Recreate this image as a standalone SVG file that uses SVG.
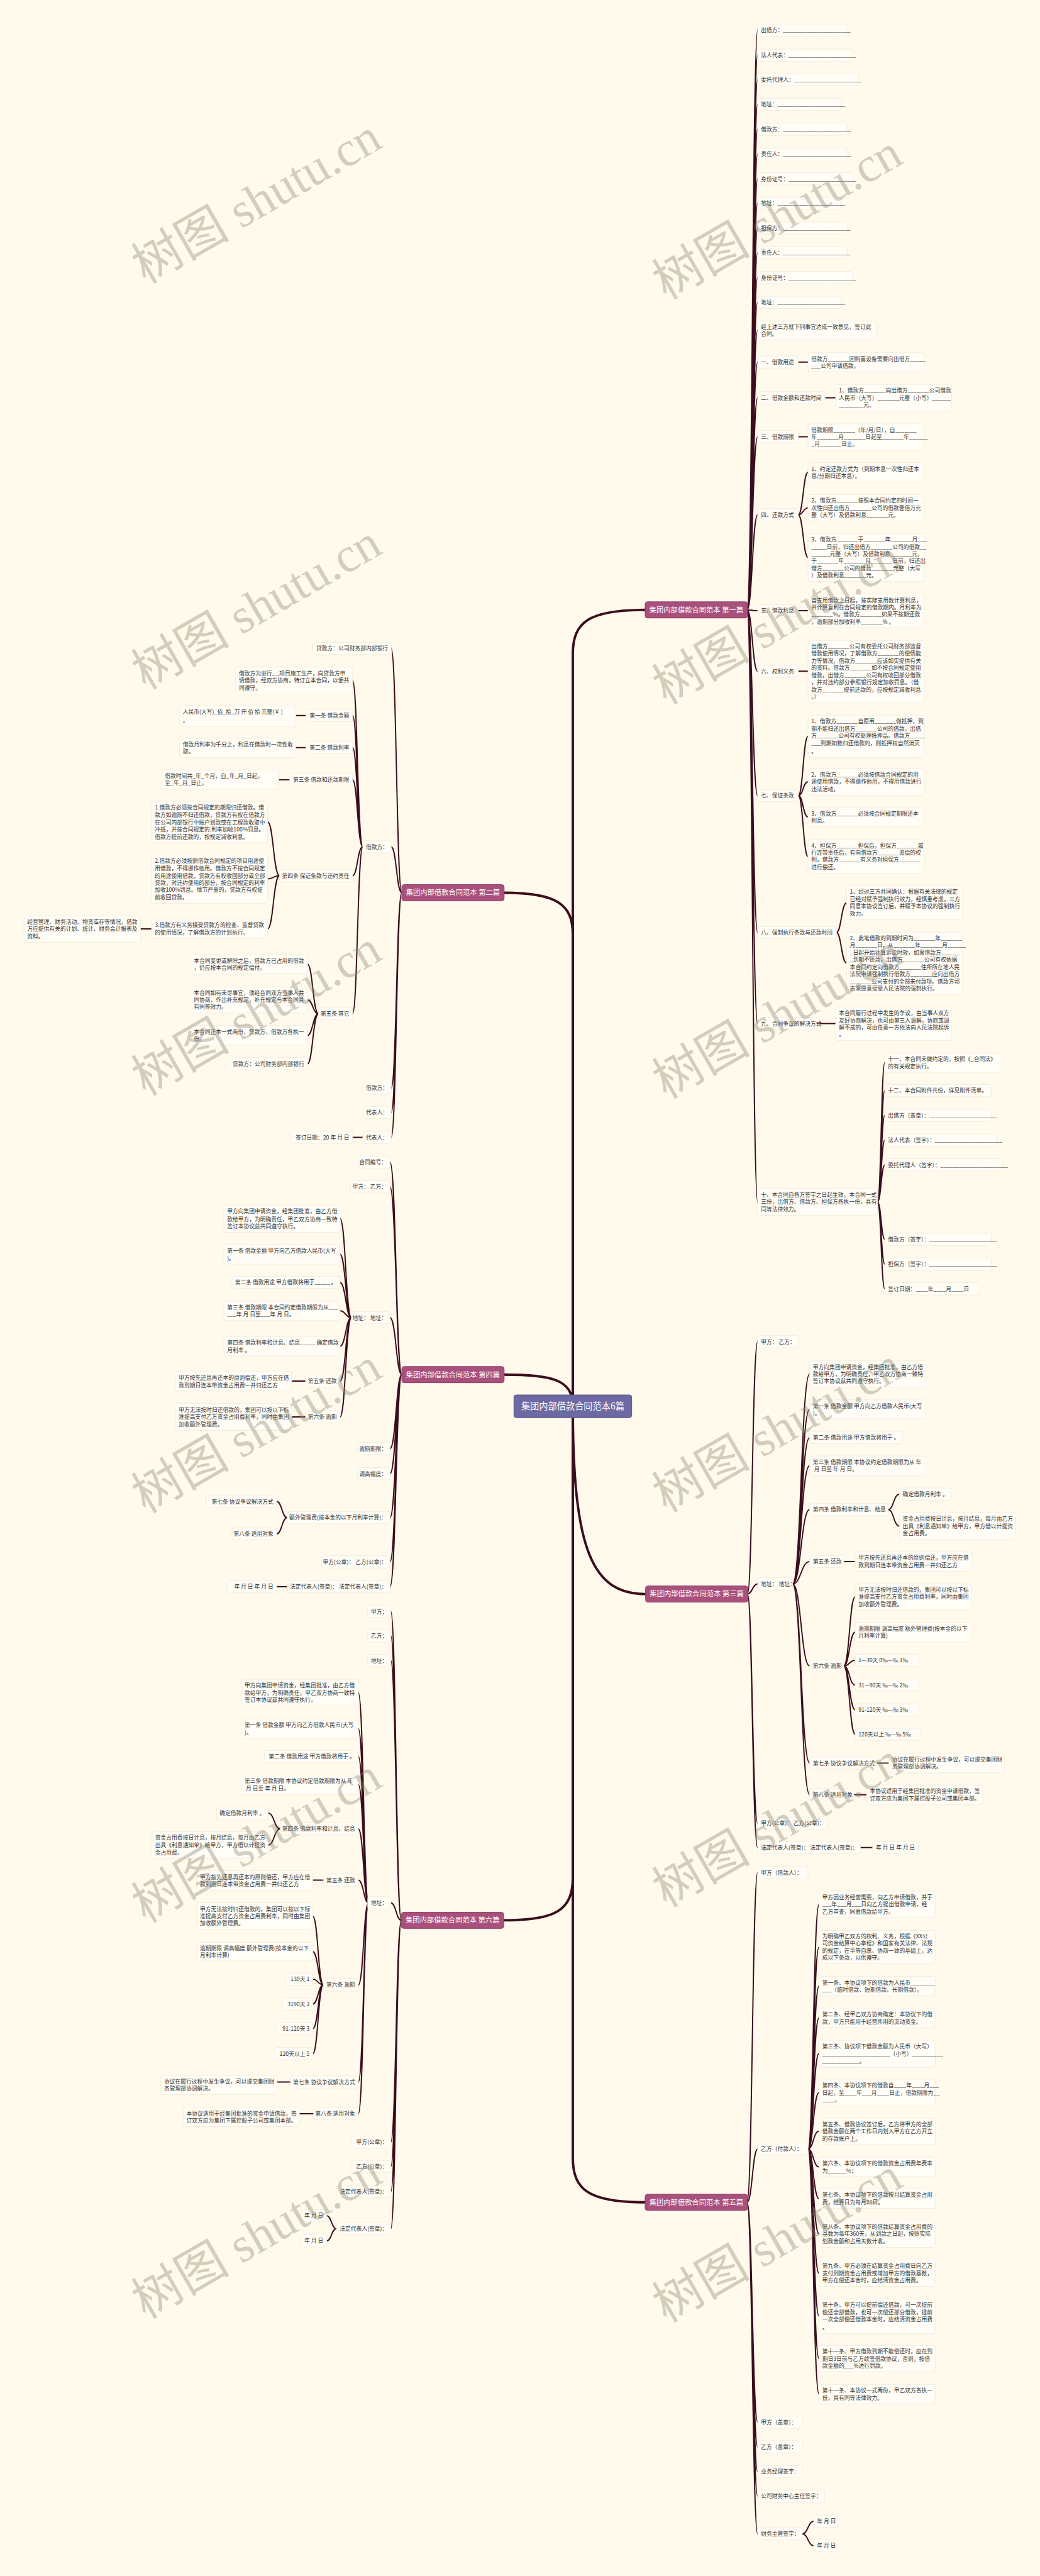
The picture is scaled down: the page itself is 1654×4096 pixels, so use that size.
<svg xmlns="http://www.w3.org/2000/svg" width="1654" height="4096" viewBox="0 0 1654 4096">
<style>
.t{font-family:"Noto Sans CJK SC","Liberation Sans",sans-serif;font-size:13.6px;fill:#333}
.e{text-anchor:end}
.b{fill:#fffdf6;stroke:#efe9d4;stroke-width:1.2}
.c{fill:none;stroke:#3b0d1e;stroke-width:3;stroke-linecap:round}
.cm{stroke-width:6}
.bn{fill:#a9507d;stroke:#8b3d65;stroke-width:1.5}
.bt{font-family:"Noto Sans CJK SC",sans-serif;font-size:17.5px;fill:#fff;text-anchor:middle}
.rn{fill:#6d69a3;stroke:#56528a;stroke-width:1.5}
.rt{font-family:"Noto Sans CJK SC",sans-serif;font-size:22px;fill:#fff;text-anchor:middle}
.w{font-family:"Liberation Serif","Noto Sans CJK SC",serif;font-size:121px;fill:#8c8672;fill-opacity:0.38}
</style>
<rect width="1654" height="4096" fill="#fffaeb"/>
<g transform="scale(0.64609)">
<g id="connectors">
<path class="c cm" d="M1410 3461 L1410 1610 C1410 1530 1450 1501 1588 1501"/>
<path class="c cm" d="M1410 3461 L1410 2300 C1410 2225 1370 2197 1240 2197"/>
<path class="c cm" d="M1240 3383 C1360 3383 1410 3395 1410 3461"/>
<path class="c cm" d="M1410 3461 C1410 3820 1460 3923 1589 3923"/>
<path class="c cm" d="M1410 3461 L1410 4620 C1410 4700 1370 4726 1240 4726"/>
<path class="c cm" d="M1410 3461 L1410 5310 C1410 5390 1450 5420 1588 5420"/>
<!-- P1 -->
<path class="c" d="M1839 1501 C1852 1501 1852 74 1865 74 M1839 1501 C1852 1501 1852 136 1865 136 M1839 1501 C1852 1501 1852 196 1865 196 M1839 1501 C1852 1501 1852 257 1865 257 M1839 1501 C1852 1501 1852 318 1865 318 M1839 1501 C1852 1501 1852 379 1865 379 M1839 1501 C1852 1501 1852 440 1865 440 M1839 1501 C1852 1501 1852 500 1865 500 M1839 1501 C1852 1501 1852 561 1865 561 M1839 1501 C1852 1501 1852 622 1865 622 M1839 1501 C1852 1501 1852 683 1865 683 M1839 1501 C1852 1501 1852 744 1865 744 M1839 1501 C1852 1501 1852 813 1865 813 M1839 1501 C1852 1501 1852 891 1865 891 M1839 1501 C1852 1501 1852 979 1865 979 M1839 1501 C1852 1501 1852 1075 1865 1075 M1839 1501 C1852 1501 1852 1267 1865 1267 M1839 1501 C1852 1501 1852 1503 1865 1503 M1839 1501 C1852 1501 1852 1652 1865 1652 M1839 1501 C1852 1501 1852 1958 1865 1958 M1839 1501 C1852 1501 1852 2295 1865 2295 M1839 1501 C1852 1501 1852 2519 1865 2519 M1839 1501 C1852 1501 1852 2958 1865 2958"/>
<path class="c" d="M1965 891 L1989 891 M2031 979 L2057 979 M1965 1075 L1989 1075 M1965 1503 L1989 1503 M1965 1652 L1989 1652 M2017 2519 L2057 2519"/>
<path class="c" d="M1965 1267 C1977 1267 1977 1162 1989 1162 M1965 1267 C1977 1267 1977 1250 1989 1250 M1965 1267 C1977 1267 1977 1372 1989 1372"/>
<path class="c" d="M1965 1958 C1977 1958 1977 1812 1989 1812 M1965 1958 C1977 1958 1977 1924 1989 1924 M1965 1958 C1977 1958 1977 2011 1989 2011 M1965 1958 C1977 1958 1977 2108 1989 2108"/>
<path class="c" d="M2059 2295 C2071 2295 2071 2222 2084 2222 M2059 2295 C2071 2295 2071 2370 2084 2370"/>
<path class="c" d="M2160 2958 C2169 2958 2169 2615 2178 2615 M2160 2958 C2169 2958 2169 2684 2178 2684 M2160 2958 C2169 2958 2169 2745 2178 2745 M2160 2958 C2169 2958 2169 2806 2178 2806 M2160 2958 C2169 2958 2169 2867 2178 2867 M2160 2958 C2169 2958 2169 3050 2178 3050 M2160 2958 C2169 2958 2169 3111 2178 3111 M2160 2958 C2169 2958 2169 3172 2178 3172"/>
<!-- P2 -->
<path class="c" d="M989 2197 C976 2197 976 1596 963 1596 M989 2197 C976 2197 976 2084 963 2084 M989 2197 C976 2197 976 2678 963 2678 M989 2197 C976 2197 976 2738 963 2738 M989 2197 C976 2197 976 2799 963 2799"/>
<path class="c" d="M893 2084 C880 2084 880 1675 868 1675 M893 2084 C880 2084 880 1761 868 1761 M893 2084 C880 2084 880 1840 868 1840 M893 2084 C880 2084 880 1919 868 1919 M893 2084 C880 2084 880 2155 868 2155 M893 2084 C880 2084 880 2495 868 2495"/>
<path class="c" d="M753 1761 L728 1761 M753 1840 L728 1840 M713 1919 L686 1919 M373 2286 L346 2286 M893 2799 L868 2799"/>
<path class="c" d="M688 2155 C673 2155 673 2023 659 2023 M688 2155 C673 2155 673 2163 659 2163 M688 2155 C673 2155 673 2286 659 2286"/>
<path class="c" d="M784 2495 C770 2495 770 2373 757 2373 M784 2495 C770 2495 770 2461 757 2461 M784 2495 C770 2495 770 2548 757 2548 M784 2495 C770 2495 770 2618 757 2618"/>
<!-- P4 -->
<path class="c" d="M989 3383 C975 3383 975 2860 960 2860 M989 3383 C975 3383 975 2921 960 2921 M989 3383 C975 3383 975 3243 960 3243 M989 3383 C975 3383 975 3565 960 3565 M989 3383 C975 3383 975 3627 960 3627 M989 3383 C975 3383 975 3735 960 3735 M989 3383 C975 3383 975 3844 960 3844 M989 3383 C975 3383 975 3905 960 3905"/>
<path class="c" d="M865 3243 C851 3243 851 2999 837 2999 M865 3243 C851 3243 851 3087 837 3087 M865 3243 C851 3243 851 3156 837 3156 M865 3243 C851 3243 851 3226 837 3226 M865 3243 C851 3243 851 3313 837 3313 M865 3243 C851 3243 851 3399 837 3399 M865 3243 C851 3243 851 3487 837 3487"/>
<path class="c" d="M752 3399 L718 3399 M752 3487 L718 3487 M707 3905 L681 3905"/>
<path class="c" d="M707 3735 C694 3735 694 3695 681 3695 M707 3735 C694 3735 694 3775 681 3775"/>
<!-- P6 -->
<path class="c" d="M988 4726 C975 4726 975 3966 962 3966 M988 4726 C975 4726 975 4026 962 4026 M988 4726 C975 4726 975 4087 962 4087 M988 4726 C975 4726 975 4683 962 4683 M988 4726 C975 4726 975 5272 962 5272 M988 4726 C975 4726 975 5332 962 5332 M988 4726 C975 4726 975 5394 962 5394 M988 4726 C975 4726 975 5485 962 5485"/>
<path class="c" d="M907 4683 C895 4683 895 4166 882 4166 M907 4683 C895 4683 895 4254 882 4254 M907 4683 C895 4683 895 4323 882 4323 M907 4683 C895 4683 895 4392 882 4392 M907 4683 C895 4683 895 4501 882 4501 M907 4683 C895 4683 895 4627 882 4627 M907 4683 C895 4683 895 4885 882 4885 M907 4683 C895 4683 895 5124 882 5124 M907 4683 C895 4683 895 5202 882 5202"/>
<path class="c" d="M690 4501 C675 4501 675 4462 660 4462 M690 4501 C675 4501 675 4541 660 4541"/>
<path class="c" d="M796 4627 L770 4627 M715 5124 L682 5124 M772 5202 L737 5202"/>
<path class="c" d="M796 4885 C783 4885 783 4716 770 4716 M796 4885 C783 4885 783 4803 770 4803 M796 4885 C783 4885 783 4871 770 4871 M796 4885 C783 4885 783 4932 770 4932 M796 4885 C783 4885 783 4993 770 4993 M796 4885 C783 4885 783 5054 770 5054"/>
<path class="c" d="M828 5485 C816 5485 816 5453 804 5453 M828 5485 C816 5485 816 5515 804 5515"/>
<!-- P3 -->
<path class="c" d="M1840 3923 C1852 3923 1852 3302 1865 3302 M1840 3923 C1852 3923 1852 3898 1865 3898 M1840 3923 C1852 3923 1852 4487 1865 4487 M1840 3923 C1852 3923 1852 4547 1865 4547"/>
<path class="c" d="M1951 3898 C1972 3898 1972 3381 1993 3381 M1951 3898 C1972 3898 1972 3468 1993 3468 M1951 3898 C1972 3898 1972 3538 1993 3538 M1951 3898 C1972 3898 1972 3607 1993 3607 M1951 3898 C1972 3898 1972 3715 1993 3715 M1951 3898 C1972 3898 1972 3843 1993 3843 M1951 3898 C1972 3898 1972 4100 1993 4100 M1951 3898 C1972 3898 1972 4339 1993 4339 M1951 3898 C1972 3898 1972 4417 1993 4417"/>
<path class="c" d="M2186 3715 C2200 3715 2200 3677 2214 3677 M2186 3715 C2200 3715 2200 3756 2214 3756"/>
<path class="c" d="M2077 3843 L2105 3843 M2158 4339 L2188 4339 M2102 4417 L2133 4417 M2118 4547 L2148 4547"/>
<path class="c" d="M2077 4100 C2091 4100 2091 3930 2105 3930 M2077 4100 C2091 4100 2091 4017 2105 4017 M2077 4100 C2091 4100 2091 4086 2105 4086 M2077 4100 C2091 4100 2091 4147 2105 4147 M2077 4100 C2091 4100 2091 4208 2105 4208 M2077 4100 C2091 4100 2091 4268 2105 4268"/>
<!-- P5 -->
<path class="c" d="M1839 5420 C1852 5420 1852 4609 1865 4609 M1839 5420 C1852 5420 1852 5289 1865 5289 M1839 5420 C1852 5420 1852 5961 1865 5961 M1839 5420 C1852 5420 1852 6022 1865 6022 M1839 5420 C1852 5420 1852 6083 1865 6083 M1839 5420 C1852 5420 1852 6143 1865 6143 M1839 5420 C1852 5420 1852 6236 1865 6236"/>
<path class="c" d="M1989 5289 C2002 5289 2002 4687 2016 4687 M1989 5289 C2002 5289 2002 4792 2016 4792 M1989 5289 C2002 5289 2002 4888 2016 4888 M1989 5289 C2002 5289 2002 4966 2016 4966 M1989 5289 C2002 5289 2002 5054 2016 5054 M1989 5289 C2002 5289 2002 5150 2016 5150 M1989 5289 C2002 5289 2002 5245 2016 5245 M1989 5289 C2002 5289 2002 5333 2016 5333 M1989 5289 C2002 5289 2002 5411 2016 5411 M1989 5289 C2002 5289 2002 5498 2016 5498 M1989 5289 C2002 5289 2002 5595 2016 5595 M1989 5289 C2002 5289 2002 5700 2016 5700 M1989 5289 C2002 5289 2002 5805 2016 5805 M1989 5289 C2002 5289 2002 5892 2016 5892"/>
<path class="c" d="M1975 6236 C1989 6236 1989 6205 2003 6205 M1975 6236 C1989 6236 1989 6265 2003 6265"/>
</g>

<g id="root"><rect class="rn" x="1265" y="3433" width="290" height="56" rx="6"/><text class="rt" x="1410" y="3469">集团内部借款合同范本6篇</text></g>

<g id="p1"><rect class="bn" x="1588" y="1481" width="252" height="40" rx="6"/><text class="bt" x="1714" y="1507">集团内部借款合同范本 第一篇</text></g>
<g id="p1-items">
<rect class="b" x="1865" y="59" width="220" height="30" rx="5"/><text class="t" x="1873" y="79">出借方：______________________</text>
<rect class="b" x="1865" y="121" width="234" height="30" rx="5"/><text class="t" x="1873" y="141">法人代表：______________________</text>
<rect class="b" x="1865" y="181" width="248" height="30" rx="5"/><text class="t" x="1873" y="201">委托代理人：______________________</text>
<rect class="b" x="1865" y="242" width="207" height="30" rx="5"/><text class="t" x="1873" y="262">地址：______________________</text>
<rect class="b" x="1865" y="303" width="220" height="30" rx="5"/><text class="t" x="1873" y="323">借款方：______________________</text>
<rect class="b" x="1865" y="364" width="220" height="30" rx="5"/><text class="t" x="1873" y="384">责任人：______________________</text>
<rect class="b" x="1865" y="425" width="234" height="30" rx="5"/><text class="t" x="1873" y="445">身份证号：______________________</text>
<rect class="b" x="1865" y="485" width="207" height="30" rx="5"/><text class="t" x="1873" y="505">地址：______________________</text>
<rect class="b" x="1865" y="546" width="220" height="30" rx="5"/><text class="t" x="1873" y="566">担保方：______________________</text>
<rect class="b" x="1865" y="607" width="220" height="30" rx="5"/><text class="t" x="1873" y="627">责任人：______________________</text>
<rect class="b" x="1865" y="668" width="234" height="30" rx="5"/><text class="t" x="1873" y="688">身份证号：______________________</text>
<rect class="b" x="1865" y="729" width="207" height="30" rx="5"/><text class="t" x="1873" y="749">地址：______________________</text>
<rect class="b" x="1865" y="790" width="292" height="47" rx="5"/><text class="t"><tspan x="1873" y="810">经上述三方就下列事宜达成一致意见，签订此</tspan><tspan x="1873" y="827">合同。</tspan></text>
<rect class="b" x="1865" y="876" width="100" height="30" rx="5"/><text class="t" x="1873" y="896">一、借款用途</text>
<rect class="b" x="1989" y="868" width="286" height="47" rx="5"/><text class="t"><tspan x="1997" y="888">借款方_______因购置设备需要向出借方_____</tspan><tspan x="1997" y="905">___公司申请借款。</tspan></text>
<rect class="b" x="1865" y="964" width="166" height="30" rx="5"/><text class="t" x="1873" y="984">二、借款金额和还款时间</text>
<rect class="b" x="2057" y="946" width="286" height="66" rx="5"/><text class="t"><tspan x="2065" y="966">1、借款方_______向出借方_______公司借款</tspan><tspan x="2065" y="984">人民币（大写）_______元整（小写）______</tspan><tspan x="2065" y="1002">________元。</tspan></text>
<rect class="b" x="1865" y="1060" width="100" height="30" rx="5"/><text class="t" x="1873" y="1080">三、借款期限</text>
<rect class="b" x="1989" y="1043" width="286" height="65" rx="5"/><text class="t"><tspan x="1997" y="1063">借款期限_______（年/月/日），自_______</tspan><tspan x="1997" y="1080">年_______月_______日起至_______年______</tspan><tspan x="1997" y="1098">_月_______日止。</tspan></text>
<rect class="b" x="1865" y="1252" width="100" height="30" rx="5"/><text class="t" x="1873" y="1272">四、还款方式</text>
<rect class="b" x="1989" y="1139" width="286" height="47" rx="5"/><text class="t"><tspan x="1997" y="1159">1、约定还款方式为（到期本息一次性归还本</tspan><tspan x="1997" y="1176">息/分期归还本息）。</tspan></text>
<rect class="b" x="1989" y="1217" width="286" height="65" rx="5"/><text class="t"><tspan x="1997" y="1237">2、借款方_______按照本合同约定的时间一</tspan><tspan x="1997" y="1255">次性归还出借方_______公司的借款壹佰万元</tspan><tspan x="1997" y="1272">整（大写）及借款利息_______元。</tspan></text>
<rect class="b" x="1989" y="1313" width="286" height="118" rx="5"/><text class="t"><tspan x="1997" y="1333">3、借款方_______于_______年_______月___</tspan><tspan x="1997" y="1351">_____日前，归还出借方_______公司的借款__</tspan><tspan x="1997" y="1369">______元整（大写）及借款利息_______元。</tspan><tspan x="1997" y="1386">于_______年_______月_______日前，归还出</tspan><tspan x="1997" y="1404">借方_______公司的借款_______元整（大写</tspan><tspan x="1997" y="1421">）及借款利息_______元。</tspan></text>
<rect class="b" x="1865" y="1488" width="100" height="30" rx="5"/><text class="t" x="1873" y="1508">五、借款利息</text>
<rect class="b" x="1989" y="1462" width="286" height="83" rx="5"/><text class="t"><tspan x="1997" y="1482">自支用借款之日起，按实际支用数计算利息，</tspan><tspan x="1997" y="1500">并计算复利在合同规定的借款期内。月利率为</tspan><tspan x="1997" y="1517">_______%。借款方_______如果不按期还款</tspan><tspan x="1997" y="1535">，逾期部分加收利率_______% 。</tspan></text>
<rect class="b" x="1865" y="1637" width="100" height="30" rx="5"/><text class="t" x="1873" y="1657">六、权利义务</text>
<rect class="b" x="1989" y="1576" width="286" height="154" rx="5"/><text class="t"><tspan x="1997" y="1596">出借方_______公司有权委托公司财务部监督</tspan><tspan x="1997" y="1613">借款使用情况，了解借款方_______的偿债能</tspan><tspan x="1997" y="1631">力等情况，借款方_______应该如实提供有关</tspan><tspan x="1997" y="1649">的资料。借款方_______如不按合同规定使用</tspan><tspan x="1997" y="1667">借款，出借方_______公司有权收回部分借款</tspan><tspan x="1997" y="1684">，并对违约部分参照银行规定加收罚息。（借</tspan><tspan x="1997" y="1702">款方_______提前还款的，应按规定减收利息</tspan><tspan x="1997" y="1720">。）</tspan></text>
<rect class="b" x="1865" y="1943" width="100" height="30" rx="5"/><text class="t" x="1873" y="1963">七、保证条款</text>
<rect class="b" x="1989" y="1760" width="286" height="104" rx="5"/><text class="t"><tspan x="1997" y="1780">1、借款方_______自愿用_______做抵押，到</tspan><tspan x="1997" y="1798">期不能归还出借方_______公司的借款，出借</tspan><tspan x="1997" y="1816">方_______公司有权处理抵押品。借款方_____</tspan><tspan x="1997" y="1834">___到期如数归还借款的，则抵押权自然消灭</tspan><tspan x="1997" y="1854">。</tspan></text>
<rect class="b" x="1989" y="1892" width="286" height="65" rx="5"/><text class="t"><tspan x="1997" y="1912">2、借款方_______必须按借款合同规定的用</tspan><tspan x="1997" y="1929">途使用借款，不得挪作他用，不得用借款进行</tspan><tspan x="1997" y="1947">违法活动。</tspan></text>
<rect class="b" x="1989" y="1987" width="286" height="48" rx="5"/><text class="t"><tspan x="1997" y="2007">3、借款方_______必须按合同规定期限还本</tspan><tspan x="1997" y="2025">利息。</tspan></text>
<rect class="b" x="1989" y="2066" width="286" height="83" rx="5"/><text class="t"><tspan x="1997" y="2086">4、担保方_______担保后，担保方_______履</tspan><tspan x="1997" y="2104">行连带责任后，有向借款方_______追偿的权</tspan><tspan x="1997" y="2121">利，借款方_______有义务对担保方_______</tspan><tspan x="1997" y="2139">进行偿还。</tspan></text>
<rect class="b" x="1865" y="2280" width="194" height="30" rx="5"/><text class="t" x="1873" y="2300">八、强制执行条款与还款时间</text>
<rect class="b" x="2084" y="2180" width="286" height="83" rx="5"/><text class="t"><tspan x="2092" y="2200">1、经过三方共同确认：根据有关法律的规定</tspan><tspan x="2092" y="2218">已经对赋予强制执行效力，经慎重考虑，三方</tspan><tspan x="2092" y="2235">同意本协议签订后，并赋予本协议的强制执行</tspan><tspan x="2092" y="2253">效力。</tspan></text>
<rect class="b" x="2084" y="2294" width="286" height="153" rx="5"/><text class="t"><tspan x="2092" y="2314">2、此笔借款的到期时间为_______年_______</tspan><tspan x="2092" y="2331">月_______日，从_______年_______月______</tspan><tspan x="2092" y="2349">_日起开始计算诉讼时效，如果借款方______</tspan><tspan x="2092" y="2366">_到期不还款，出借方_______公司有权依据</tspan><tspan x="2092" y="2385">本合同约定向借款方_______住所所在地人民</tspan><tspan x="2092" y="2402">法院申请强制执行借款方_______应向出借方</tspan><tspan x="2092" y="2420">_______公司支付的全部未付款项。借款方郭</tspan><tspan x="2092" y="2437">志坚愿意接受人民法院的强制执行。</tspan></text>
<rect class="b" x="1865" y="2504" width="152" height="30" rx="5"/><text class="t" x="1873" y="2524">九、合同争议的解决方式</text>
<rect class="b" x="2057" y="2478" width="286" height="83" rx="5"/><text class="t"><tspan x="2065" y="2498">本合同履行过程中发生的争议，由当事人双方</tspan><tspan x="2065" y="2516">友好协商解决，也可由第三人调解，协商或调</tspan><tspan x="2065" y="2533">解不成的，可由任意一方依法向人民法院起诉</tspan><tspan x="2065" y="2551">。</tspan></text>
<rect class="b" x="1865" y="2925" width="295" height="66" rx="5"/><text class="t"><tspan x="1873" y="2945">十、本合同自各方签字之日起生效，本合同一式</tspan><tspan x="1873" y="2963">三份，出借方、借款方、担保方各执一份，具有</tspan><tspan x="1873" y="2981">同等法律效力。</tspan></text>
<rect class="b" x="2178" y="2591" width="288" height="48" rx="5"/><text class="t"><tspan x="2186" y="2611">十一、本合同未做约定的，按照《_合同法》</tspan><tspan x="2186" y="2629">的有关规定执行。</tspan></text>
<rect class="b" x="2178" y="2669" width="262" height="30" rx="5"/><text class="t" x="2186" y="2689">十二、本合同附件共份，详见附件清单。</text>
<rect class="b" x="2178" y="2730" width="262" height="30" rx="5"/><text class="t" x="2186" y="2750">出借方（盖章）：______________________</text>
<rect class="b" x="2178" y="2791" width="276" height="30" rx="5"/><text class="t" x="2186" y="2811">法人代表（签字）：______________________</text>
<rect class="b" x="2178" y="2852" width="290" height="30" rx="5"/><text class="t" x="2186" y="2872">委托代理人（签字）：______________________</text>
<rect class="b" x="2178" y="3035" width="262" height="30" rx="5"/><text class="t" x="2186" y="3055">借款方（签字）：______________________</text>
<rect class="b" x="2178" y="3096" width="262" height="30" rx="5"/><text class="t" x="2186" y="3116">担保方（签字）：______________________</text>
<rect class="b" x="2178" y="3157" width="234" height="30" rx="5"/><text class="t" x="2186" y="3177">签订日期：____年____月____日</text>
</g>

<g id="p2"><rect class="bn" x="989" y="2177" width="252" height="40" rx="6"/><text class="bt" x="1115" y="2203">集团内部借款合同范本 第二篇</text></g>
<g id="p2-items">
<rect class="b" x="770" y="1581" width="193" height="30" rx="5"/><text class="t e" x="955" y="1601">贷款方：公司财务部内部银行</text>
<rect class="b" x="893" y="2069" width="70" height="30" rx="5"/><text class="t e" x="955" y="2089">借款方：</text>
<rect class="b" x="580" y="1642" width="288" height="66" rx="5"/><text class="t"><tspan x="588" y="1662">借款方为进行_ _项目施工生产，向贷款方申</tspan><tspan x="588" y="1680">请借款，经双方协商，特订立本合同，以便共</tspan><tspan x="588" y="1698">同遵守。</tspan></text>
<rect class="b" x="753" y="1746" width="115" height="30" rx="5"/><text class="t e" x="860" y="1766">第一条 借款金额</text>
<rect class="b" x="442" y="1737" width="286" height="51" rx="5"/><text class="t"><tspan x="450" y="1757">人民币(大写)_佰_拾_万 仟 佰 拾 元整(￥ )</tspan><tspan x="450" y="1778">。</tspan></text>
<rect class="b" x="753" y="1825" width="115" height="30" rx="5"/><text class="t e" x="860" y="1845">第二条 借款利率</text>
<rect class="b" x="442" y="1817" width="286" height="47" rx="5"/><text class="t"><tspan x="450" y="1837">借款月利率为千分之，利息在借款时一次性收</tspan><tspan x="450" y="1854">取。</tspan></text>
<rect class="b" x="713" y="1904" width="155" height="30" rx="5"/><text class="t e" x="860" y="1924">第三条 借款和还款期限</text>
<rect class="b" x="398" y="1895" width="288" height="47" rx="5"/><text class="t"><tspan x="406" y="1915">借款时间共_年_个月，自_年_月_日起，</tspan><tspan x="406" y="1932">至_年_月_日止。</tspan></text>
<rect class="b" x="688" y="2140" width="180" height="30" rx="5"/><text class="t e" x="860" y="2160">第四条 保证条款与违约责任</text>
<rect class="b" x="373" y="1972" width="286" height="102" rx="5"/><text class="t"><tspan x="381" y="1992">1.借款方必须按合同规定的期限归还借款。借</tspan><tspan x="381" y="2011">款方如逾期不归还借款，贷款方有权在借款方</tspan><tspan x="381" y="2029">在公司内部银行中账户划款或在工程款收取中</tspan><tspan x="381" y="2046">冲抵，并按合同规定的.利率加收100%罚息。</tspan><tspan x="381" y="2064">借款方提前还款的，按规定减收利息。</tspan></text>
<rect class="b" x="373" y="2104" width="286" height="119" rx="5"/><text class="t"><tspan x="381" y="2124">2.借款方必须按照借款合同规定的项目用途使</tspan><tspan x="381" y="2142">用借款，不得挪作他用。借款方不按合同规定</tspan><tspan x="381" y="2160">的用途使用借款，贷款方有权收回部分或全部</tspan><tspan x="381" y="2178">贷款，对违约使用的部分，按合同规定的利率</tspan><tspan x="381" y="2195">加收100%罚息。情节严重的，贷款方有权提</tspan><tspan x="381" y="2213">前收回贷款。</tspan></text>
<rect class="b" x="373" y="2262" width="286" height="48" rx="5"/><text class="t"><tspan x="381" y="2282">3.借款方有义务接受贷款方的检查、监督贷款</tspan><tspan x="381" y="2300">的使用情况，了解借款方的计划执行、</tspan></text>
<rect class="b" x="59" y="2254" width="287" height="65" rx="5"/><text class="t"><tspan x="67" y="2274">经营管理、财务活动、物资库存等情况。借款</tspan><tspan x="67" y="2291">方应提供有关的计划、统计、财务会计报表及</tspan><tspan x="67" y="2309">资料。</tspan></text>
<rect class="b" x="784" y="2480" width="84" height="30" rx="5"/><text class="t e" x="860" y="2500">第五条 其它</text>
<rect class="b" x="469" y="2350" width="288" height="47" rx="5"/><text class="t"><tspan x="477" y="2370">本合同变更或解除之后，借款方已占用的借款</tspan><tspan x="477" y="2387">，仍应按本合同的规定偿付。</tspan></text>
<rect class="b" x="469" y="2429" width="288" height="64" rx="5"/><text class="t"><tspan x="477" y="2449">本合同如有未尽事宜，须经合同双方当事人共</tspan><tspan x="477" y="2466">同协商，作出补充规定，补充规定与本合同具</tspan><tspan x="477" y="2483">有同等效力。</tspan></text>
<rect class="b" x="469" y="2524" width="288" height="48" rx="5"/><text class="t"><tspan x="477" y="2544">本合同正本一式两份，贷款方、借款方各执一</tspan><tspan x="477" y="2562">份。</tspan></text>
<rect class="b" x="566" y="2603" width="191" height="30" rx="5"/><text class="t e" x="749" y="2623">贷款方：公司财务部内部银行</text>
<rect class="b" x="893" y="2663" width="70" height="30" rx="5"/><text class="t e" x="955" y="2683">借款方：</text>
<rect class="b" x="893" y="2723" width="70" height="30" rx="5"/><text class="t e" x="955" y="2743">代表人：</text>
<rect class="b" x="893" y="2784" width="70" height="30" rx="5"/><text class="t e" x="955" y="2804">代表人：</text>
<rect class="b" x="715" y="2784" width="153" height="30" rx="5"/><text class="t e" x="860" y="2804">签订日期：20 年 月 日</text>
</g>

<g id="p4"><rect class="bn" x="989" y="3363" width="252" height="40" rx="6"/><text class="bt" x="1115" y="3389">集团内部借款合同范本 第四篇</text></g>
<g id="p4-items">
<rect class="b" x="882" y="2845" width="78" height="30" rx="5"/><text class="t e" x="952" y="2865">合同编号：</text>
<rect class="b" x="863" y="2906" width="97" height="30" rx="5"/><text class="t e" x="952" y="2926">甲方：  乙方：</text>
<rect class="b" x="865" y="3228" width="95" height="30" rx="5"/><text class="t e" x="952" y="3248">地址：  地址：</text>
<rect class="b" x="551" y="2966" width="286" height="67" rx="5"/><text class="t"><tspan x="559" y="2986">甲方向集团申请资金，经集团批准，由乙方借</tspan><tspan x="559" y="3005">款给甲方，为明确责任，甲乙双方协商一致特</tspan><tspan x="559" y="3023">签订本协议兹共同遵守执行。</tspan></text>
<rect class="b" x="551" y="3063" width="286" height="48" rx="5"/><text class="t"><tspan x="559" y="3083">第一条 借款金额 甲方向乙方借款人民币(大写</tspan><tspan x="559" y="3101">)。</tspan></text>
<rect class="b" x="571" y="3141" width="266" height="30" rx="5"/><text class="t e" x="829" y="3161">第二条 借款用途 甲方借款将用于_____ 。</text>
<rect class="b" x="551" y="3202" width="286" height="48" rx="5"/><text class="t"><tspan x="559" y="3222">第三条 借款期限 本合同约定借款期限为从___</tspan><tspan x="559" y="3240">___年 月 日至___年 月 日。</tspan></text>
<rect class="b" x="551" y="3289" width="286" height="48" rx="5"/><text class="t"><tspan x="559" y="3309">第四条 借款利率和计息、结息_____ 确定借款</tspan><tspan x="559" y="3327">月利率 。</tspan></text>
<rect class="b" x="752" y="3384" width="85" height="30" rx="5"/><text class="t e" x="829" y="3404">第五条 还款</text>
<rect class="b" x="432" y="3376" width="286" height="47" rx="5"/><text class="t"><tspan x="440" y="3396">甲方按先还息再还本的原则偿还，甲方应在借</tspan><tspan x="440" y="3414">款到期日连本带资金占用费一并归还乙方</tspan></text>
<rect class="b" x="752" y="3472" width="85" height="30" rx="5"/><text class="t e" x="829" y="3492">第六条 逾期</text>
<rect class="b" x="432" y="3454" width="286" height="66" rx="5"/><text class="t"><tspan x="440" y="3474">甲方无法按时归还借款的，集团可以按以下标</tspan><tspan x="440" y="3492">准提高支付乙方资金占用费利率，同时由集团</tspan><tspan x="440" y="3510">加收额外管理费。</tspan></text>
<rect class="b" x="880" y="3550" width="80" height="30" rx="5"/><text class="t e" x="952" y="3570">逾期期限：</text>
<rect class="b" x="880" y="3612" width="80" height="30" rx="5"/><text class="t e" x="952" y="3632">调高幅度：</text>
<rect class="b" x="707" y="3720" width="253" height="30" rx="5"/><text class="t e" x="952" y="3740">额外管理费(按本金的以下月利率计算)：</text>
<rect class="b" x="508" y="3680" width="173" height="30" rx="5"/><text class="t e" x="673" y="3700">第七条 协议争议解决方式</text>
<rect class="b" x="571" y="3760" width="110" height="30" rx="5"/><text class="t e" x="673" y="3780">第八条 适用对象</text>
<rect class="b" x="791" y="3829" width="169" height="30" rx="5"/><text class="t e" x="952" y="3849">甲方(公章)：  乙方(公章)：</text>
<rect class="b" x="707" y="3890" width="253" height="30" rx="5"/><text class="t e" x="952" y="3910">法定代表人(签章)：  法定代表人(签章)：</text>
<rect class="b" x="560" y="3890" width="121" height="30" rx="5"/><text class="t e" x="673" y="3910">年 月 日 年 月 日</text>
</g>

<g id="p6"><rect class="bn" x="988" y="4706" width="252" height="40" rx="6"/><text class="bt" x="1114" y="4732">集团内部借款合同范本 第六篇</text></g>
<g id="p6-items">
<rect class="b" x="905" y="3951" width="57" height="30" rx="5"/><text class="t e" x="954" y="3971">甲方：</text>
<rect class="b" x="905" y="4011" width="57" height="30" rx="5"/><text class="t e" x="954" y="4031">乙方：</text>
<rect class="b" x="905" y="4072" width="57" height="30" rx="5"/><text class="t e" x="954" y="4092">地址：</text>
<rect class="b" x="905" y="4668" width="57" height="30" rx="5"/><text class="t e" x="954" y="4688">地址：</text>
<rect class="b" x="594" y="4133" width="288" height="65" rx="5"/><text class="t"><tspan x="602" y="4153">甲方向集团申请资金，经集团批准，由乙方借</tspan><tspan x="602" y="4171">款给甲方，为明确责任，甲乙双方协商一致特</tspan><tspan x="602" y="4188">签订本协议兹共同遵守执行。</tspan></text>
<rect class="b" x="594" y="4230" width="288" height="48" rx="5"/><text class="t"><tspan x="602" y="4250">第一条 借款金额 甲方向乙方借款人民币(大写</tspan><tspan x="602" y="4268">)。</tspan></text>
<rect class="b" x="651" y="4308" width="231" height="30" rx="5"/><text class="t e" x="874" y="4328">第二条 借款用途 甲方借款将用于 。</text>
<rect class="b" x="594" y="4368" width="288" height="49" rx="5"/><text class="t"><tspan x="602" y="4388">第三条 借款期限 本协议约定借款期限为从 年</tspan><tspan x="602" y="4407"> 月 日至 年 月 日。</tspan></text>
<rect class="b" x="690" y="4486" width="192" height="30" rx="5"/><text class="t e" x="874" y="4506">第四条 借款利率和计息、结息</text>
<rect class="b" x="533" y="4447" width="127" height="30" rx="5"/><text class="t e" x="652" y="4467">确定借款月利率 。</text>
<rect class="b" x="374" y="4508" width="286" height="66" rx="5"/><text class="t"><tspan x="382" y="4528">资金占用费按日计息，按月结息，每月由乙方</tspan><tspan x="382" y="4546">出具《利息通知单》给甲方，甲方借以计提资</tspan><tspan x="382" y="4564">金占用费。</tspan></text>
<rect class="b" x="796" y="4612" width="86" height="30" rx="5"/><text class="t e" x="874" y="4632">第五条 还款</text>
<rect class="b" x="484" y="4604" width="286" height="48" rx="5"/><text class="t"><tspan x="492" y="4624">甲方按先还息再还本的原则偿还，甲方应在借</tspan><tspan x="492" y="4642">款到期日连本带资金占用费一并归还乙方</tspan></text>
<rect class="b" x="796" y="4870" width="86" height="30" rx="5"/><text class="t e" x="874" y="4890">第六条 逾期</text>
<rect class="b" x="484" y="4683" width="286" height="65" rx="5"/><text class="t"><tspan x="492" y="4703">甲方无法按时归还借款的，集团可以按以下标</tspan><tspan x="492" y="4721">准提高支付乙方资金占用费利率，同时由集团</tspan><tspan x="492" y="4738">加收额外管理费。</tspan></text>
<rect class="b" x="484" y="4780" width="286" height="46" rx="5"/><text class="t"><tspan x="492" y="4800">逾期期限 调高幅度 额外管理费(按本金的以下</tspan><tspan x="492" y="4816">月利率计算)</tspan></text>
<rect class="b" x="702" y="4856" width="68" height="30" rx="5"/><text class="t e" x="762" y="4876">130天  1</text>
<rect class="b" x="695" y="4917" width="75" height="30" rx="5"/><text class="t e" x="762" y="4937">3190天  2</text>
<rect class="b" x="682" y="4978" width="88" height="30" rx="5"/><text class="t e" x="762" y="4998">91-120天  3</text>
<rect class="b" x="677" y="5039" width="93" height="30" rx="5"/><text class="t e" x="762" y="5059">120天以上  5</text>
<rect class="b" x="715" y="5109" width="167" height="30" rx="5"/><text class="t e" x="874" y="5129">第七条 协议争议解决方式</text>
<rect class="b" x="396" y="5108" width="286" height="47" rx="5"/><text class="t"><tspan x="404" y="5128">协议在履行过程中发生争议，可以提交集团财</tspan><tspan x="404" y="5145">务管理部协调解决。</tspan></text>
<rect class="b" x="772" y="5187" width="110" height="30" rx="5"/><text class="t e" x="874" y="5207">第八条 适用对象</text>
<rect class="b" x="451" y="5186" width="286" height="48" rx="5"/><text class="t"><tspan x="459" y="5206">本协议适用于经集团批准的资金申请借款，签</tspan><tspan x="459" y="5224">订双方应为集团下属控股子公司或集团本部。</tspan></text>
<rect class="b" x="864" y="5257" width="98" height="30" rx="5"/><text class="t e" x="954" y="5277">甲方(公章)：</text>
<rect class="b" x="864" y="5317" width="98" height="30" rx="5"/><text class="t e" x="954" y="5337">乙方(公章)：</text>
<rect class="b" x="828" y="5379" width="134" height="30" rx="5"/><text class="t e" x="954" y="5399">法定代表人(签章)：</text>
<rect class="b" x="828" y="5470" width="134" height="30" rx="5"/><text class="t e" x="954" y="5490">法定代表人(签章)：</text>
<rect class="b" x="741" y="5438" width="63" height="30" rx="5"/><text class="t e" x="796" y="5458">年 月 日</text>
<rect class="b" x="741" y="5500" width="63" height="30" rx="5"/><text class="t e" x="796" y="5520">年 月 日</text>
</g>

<g id="p3"><rect class="bn" x="1589" y="3903" width="252" height="40" rx="6"/><text class="bt" x="1715" y="3929">集团内部借款合同范本 第三篇</text></g>
<g id="p3-items">
<rect class="b" x="1865" y="3287" width="100" height="30" rx="5"/><text class="t" x="1873" y="3307">甲方：  乙方：</text>
<rect class="b" x="1865" y="3883" width="86" height="30" rx="5"/><text class="t" x="1873" y="3903">地址：  地址：</text>
<rect class="b" x="1993" y="3349" width="286" height="65" rx="5"/><text class="t"><tspan x="2001" y="3369">甲方向集团申请资金，经集团批准，由乙方借</tspan><tspan x="2001" y="3386">款给甲方，为明确责任，甲乙双方协商一致特</tspan><tspan x="2001" y="3404">签订本协议兹共同遵守执行。</tspan></text>
<rect class="b" x="1993" y="3445" width="286" height="47" rx="5"/><text class="t"><tspan x="2001" y="3465">第一条 借款金额 甲方向乙方借款人民币(大写</tspan><tspan x="2001" y="3482">)。</tspan></text>
<rect class="b" x="1993" y="3523" width="229" height="30" rx="5"/><text class="t" x="2001" y="3543">第二条 借款用途 甲方借款将用于 。</text>
<rect class="b" x="1993" y="3583" width="286" height="48" rx="5"/><text class="t"><tspan x="2001" y="3603">第三条 借款期限 本协议约定借款期限为从 年</tspan><tspan x="2001" y="3621"> 月 日至 年 月 日。</tspan></text>
<rect class="b" x="1993" y="3700" width="193" height="30" rx="5"/><text class="t" x="2001" y="3720">第四条 借款利率和计息、结息</text>
<rect class="b" x="2214" y="3662" width="127" height="30" rx="5"/><text class="t" x="2222" y="3682">确定借款月利率 。</text>
<rect class="b" x="2214" y="3723" width="286" height="65" rx="5"/><text class="t"><tspan x="2222" y="3743">资金占用费按日计息，按月结息，每月由乙方</tspan><tspan x="2222" y="3761">出具《利息通知单》给甲方，甲方借以计提资</tspan><tspan x="2222" y="3778">金占用费。</tspan></text>
<rect class="b" x="1993" y="3828" width="84" height="30" rx="5"/><text class="t" x="2001" y="3848">第五条 还款</text>
<rect class="b" x="2105" y="3819" width="286" height="48" rx="5"/><text class="t"><tspan x="2113" y="3839">甲方按先还息再还本的原则偿还，甲方应在借</tspan><tspan x="2113" y="3857">款到期日连本带资金占用费一并归还乙方</tspan></text>
<rect class="b" x="1993" y="4085" width="84" height="30" rx="5"/><text class="t" x="2001" y="4105">第六条 逾期</text>
<rect class="b" x="2105" y="3898" width="286" height="65" rx="5"/><text class="t"><tspan x="2113" y="3918">甲方无法按时归还借款的，集团可以按以下标</tspan><tspan x="2113" y="3935">准提高支付乙方资金占用费利率，同时由集团</tspan><tspan x="2113" y="3953">加收额外管理费。</tspan></text>
<rect class="b" x="2105" y="3993" width="286" height="48" rx="5"/><text class="t"><tspan x="2113" y="4013">逾期期限 调高幅度 额外管理费(按本金的以下</tspan><tspan x="2113" y="4031">月利率计算)</tspan></text>
<rect class="b" x="2105" y="4071" width="157" height="30" rx="5"/><text class="t" x="2113" y="4091">1—30天 0‰—‰ 1‰</text>
<rect class="b" x="2105" y="4132" width="157" height="30" rx="5"/><text class="t" x="2113" y="4152">31—90天 ‰—‰ 2‰</text>
<rect class="b" x="2105" y="4193" width="157" height="30" rx="5"/><text class="t" x="2113" y="4213">91-120天 ‰—‰ 3‰</text>
<rect class="b" x="2105" y="4253" width="160" height="30" rx="5"/><text class="t" x="2113" y="4273">120天以上 ‰—‰ 5‰</text>
<rect class="b" x="1993" y="4324" width="165" height="30" rx="5"/><text class="t" x="2001" y="4344">第七条 协议争议解决方式</text>
<rect class="b" x="2188" y="4315" width="284" height="48" rx="5"/><text class="t"><tspan x="2196" y="4335">协议在履行过程中发生争议，可以提交集团财</tspan><tspan x="2196" y="4352">务管理部协调解决。</tspan></text>
<rect class="b" x="1993" y="4402" width="109" height="30" rx="5"/><text class="t" x="2001" y="4422">第八条 适用对象</text>
<rect class="b" x="2133" y="4393" width="286" height="48" rx="5"/><text class="t"><tspan x="2141" y="4413">本协议适用于经集团批准的资金申请借款，签</tspan><tspan x="2141" y="4431">订双方应为集团下属控股子公司或集团本部。</tspan></text>
<rect class="b" x="1865" y="4472" width="172" height="30" rx="5"/><text class="t" x="1873" y="4492">甲方(公章)：  乙方(公章)：</text>
<rect class="b" x="1865" y="4532" width="253" height="30" rx="5"/><text class="t" x="1873" y="4552">法定代表人(签章)：  法定代表人(签章)：</text>
<rect class="b" x="2148" y="4532" width="112" height="30" rx="5"/><text class="t" x="2156" y="4552">年 月 日 年 月 日</text>
</g>

<g id="p5"><rect class="bn" x="1588" y="5400" width="252" height="40" rx="6"/><text class="bt" x="1714" y="5426">集团内部借款合同范本 第五篇</text></g>
<g id="p5-items">
<rect class="b" x="1865" y="4594" width="124" height="30" rx="5"/><text class="t" x="1873" y="4614">甲方（借款人）：</text>
<rect class="b" x="1865" y="5274" width="124" height="30" rx="5"/><text class="t" x="1873" y="5294">乙方（付款人）：</text>
<rect class="b" x="2016" y="4654" width="286" height="66" rx="5"/><text class="t"><tspan x="2024" y="4674">甲方因业务经营需要，向乙方申请借款，并于</tspan><tspan x="2024" y="4692">___年___月___日向乙方提出借款申请，经</tspan><tspan x="2024" y="4710">乙方审查，同意借款给甲方。</tspan></text>
<rect class="b" x="2016" y="4751" width="286" height="82" rx="5"/><text class="t"><tspan x="2024" y="4771">为明确甲乙双方的权利、义务，根据《XX公</tspan><tspan x="2024" y="4788">司资金结算中心章程》和国家有关法律、法规</tspan><tspan x="2024" y="4806">的规定，在平等自愿、协商一致的基础上，达</tspan><tspan x="2024" y="4823">成以下条款，以供遵守。</tspan></text>
<rect class="b" x="2016" y="4864" width="286" height="48" rx="5"/><text class="t"><tspan x="2024" y="4884">第一条、本协议项下的借款为人民币________</tspan><tspan x="2024" y="4902">___（临时借款、短期借款、长期借款）。</tspan></text>
<rect class="b" x="2016" y="4942" width="286" height="48" rx="5"/><text class="t"><tspan x="2024" y="4962">第二条、经甲乙双方协商确定：本协议下的借</tspan><tspan x="2024" y="4980">款，甲方只能用于经营所用的流动资金。</tspan></text>
<rect class="b" x="2016" y="5021" width="286" height="67" rx="5"/><text class="t"><tspan x="2024" y="5041">第三条、协议项下借款金额为人民币（大写）</tspan><tspan x="2024" y="5059">______________________（小写）__________</tspan><tspan x="2024" y="5078">____________。</tspan></text>
<rect class="b" x="2016" y="5117" width="286" height="66" rx="5"/><text class="t"><tspan x="2024" y="5137">第四条、本协议项下的借款自____年____月___</tspan><tspan x="2024" y="5155">日起，至____年___月____日止，借款期限为__</tspan><tspan x="2024" y="5173">____。</tspan></text>
<rect class="b" x="2016" y="5213" width="286" height="65" rx="5"/><text class="t"><tspan x="2024" y="5233">第五条、借款协议签订后，乙方将甲方的全部</tspan><tspan x="2024" y="5250">借款金额在两个工作日内划入甲方在乙方开立</tspan><tspan x="2024" y="5268">的存款账户上。</tspan></text>
<rect class="b" x="2016" y="5309" width="286" height="48" rx="5"/><text class="t"><tspan x="2024" y="5329">第六条、本协议项下的借款资金占用费年费率</tspan><tspan x="2024" y="5347">为______%；</tspan></text>
<rect class="b" x="2016" y="5387" width="286" height="48" rx="5"/><text class="t"><tspan x="2024" y="5407">第七条、本协议项下的借款按月结算资金占用</tspan><tspan x="2024" y="5425">费，结算日为每月21日。</tspan></text>
<rect class="b" x="2016" y="5466" width="286" height="65" rx="5"/><text class="t"><tspan x="2024" y="5486">第八条、本协议项下的借款结算资金占用费的</tspan><tspan x="2024" y="5503">基数为每年360天，从到款之日起，按照实际</tspan><tspan x="2024" y="5521">划款金额和占用天数计收。</tspan></text>
<rect class="b" x="2016" y="5562" width="286" height="65" rx="5"/><text class="t"><tspan x="2024" y="5582">第九条、甲方必须在结算资金占用费日向乙方</tspan><tspan x="2024" y="5600">支付到期资金占用费或增加甲方的借款基数，</tspan><tspan x="2024" y="5617">甲方在偿还本金时，应结清资金占用费。</tspan></text>
<rect class="b" x="2016" y="5658" width="286" height="85" rx="5"/><text class="t"><tspan x="2024" y="5678">第十条、甲方可以提前偿还借款，可一次提前</tspan><tspan x="2024" y="5696">偿还全部借款，也可一次偿还部分借款，提前</tspan><tspan x="2024" y="5713">一次全部偿还借款本金时，应结清资金占用费</tspan><tspan x="2024" y="5733">。</tspan></text>
<rect class="b" x="2016" y="5772" width="286" height="65" rx="5"/><text class="t"><tspan x="2024" y="5792">第十一条、甲方借款到期不能偿还时，应在到</tspan><tspan x="2024" y="5810">期日3日前与乙方续签借款协议，否则，按借</tspan><tspan x="2024" y="5827">款金额的___%进行罚款。</tspan></text>
<rect class="b" x="2016" y="5868" width="286" height="48" rx="5"/><text class="t"><tspan x="2024" y="5888">第十一条、本协议一式两份，甲乙双方各执一</tspan><tspan x="2024" y="5906">份，具有同等法律效力。</tspan></text>
<rect class="b" x="1865" y="5946" width="110" height="30" rx="5"/><text class="t" x="1873" y="5966">甲方（盖章）：</text>
<rect class="b" x="1865" y="6007" width="110" height="30" rx="5"/><text class="t" x="1873" y="6027">乙方（盖章）：</text>
<rect class="b" x="1865" y="6068" width="110" height="30" rx="5"/><text class="t" x="1873" y="6088">业务经理签字：</text>
<rect class="b" x="1865" y="6128" width="165" height="30" rx="5"/><text class="t" x="1873" y="6148">公司财务中心主任签字：</text>
<rect class="b" x="1865" y="6221" width="110" height="30" rx="5"/><text class="t" x="1873" y="6241">财务主管签字：</text>
<rect class="b" x="2003" y="6190" width="59" height="30" rx="5"/><text class="t" x="2011" y="6210">年 月 日</text>
<rect class="b" x="2003" y="6250" width="59" height="30" rx="5"/><text class="t" x="2011" y="6270">年 月 日</text>
</g>

<g id="watermarks">
<text class="w" transform="translate(358 700) rotate(-30)">树图 shutu.cn</text>
<text class="w" transform="translate(358 1699) rotate(-30)">树图 shutu.cn</text>
<text class="w" transform="translate(358 2698) rotate(-30)">树图 shutu.cn</text>
<text class="w" transform="translate(358 3726) rotate(-30)">树图 shutu.cn</text>
<text class="w" transform="translate(358 4734) rotate(-30)">树图 shutu.cn</text>
<text class="w" transform="translate(358 5708) rotate(-30)">树图 shutu.cn</text>
<text class="w" transform="translate(1640 739) rotate(-30)">树图 shutu.cn</text>
<text class="w" transform="translate(1640 1736) rotate(-30)">树图 shutu.cn</text>
<text class="w" transform="translate(1640 2706) rotate(-30)">树图 shutu.cn</text>
<text class="w" transform="translate(1640 3724) rotate(-30)">树图 shutu.cn</text>
<text class="w" transform="translate(1640 4696) rotate(-30)">树图 shutu.cn</text>
<text class="w" transform="translate(1640 5718) rotate(-30)">树图 shutu.cn</text>
</g>
</g>
</svg>
